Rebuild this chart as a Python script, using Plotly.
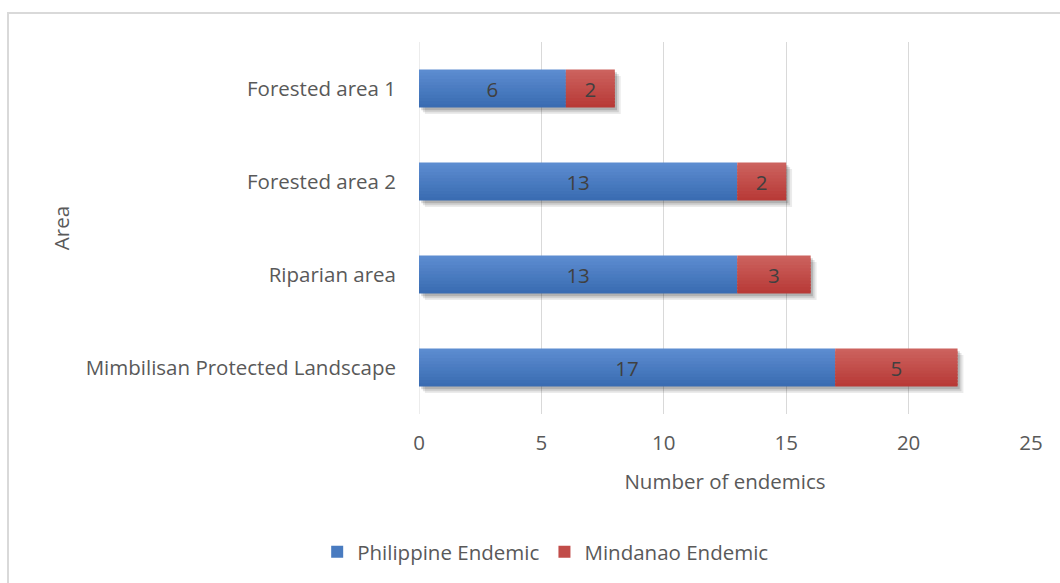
import plotly.graph_objects as go

# Endemic species counts per survey area
areas = ["Forested area 1", "Forested area 2", "Riparian area", "Mimbilisan Protected Landscape"]
philippine_endemic = [6, 13, 13, 17]
mindanao_endemic = [2, 2, 3, 5]
x_ticks = [0, 5, 10, 15, 20, 25]

totals = [p + m for p, m in zip(philippine_endemic, mindanao_endemic)]

FONT = "Open Sans"
FS = 20.5
BAR_W = 0.41
N_STRIPS = 12
# vertical gradient, top colour -> bottom colour
BLUE_GRAD = ((92, 140, 208), (58, 108, 178))
RED_GRAD = ((204, 98, 94), (184, 58, 55))


def mix(c0, c1, t):
    return "rgb({},{},{})".format(*[round(a + (b - a) * t) for a, b in zip(c0, c1)])


fig = go.Figure()

# soft drop shadow under each stacked bar
for dx, dy, a in [(0.24, 0.07, 0.08), (0.16, 0.05, 0.11), (0.09, 0.03, 0.15)]:
    fig.add_trace(go.Bar(
        y=areas, x=totals, base=[dx] * len(areas), orientation="h",
        width=BAR_W, offset=-BAR_W / 2 + dy,
        marker=dict(color=f"rgba(0,0,0,{a})", line=dict(width=0)),
        hoverinfo="skip", showlegend=False,
    ))


def gradient_bar(values, base, grad, name, rank):
    strip = BAR_W / N_STRIPS
    for k in range(N_STRIPS):
        t = k / (N_STRIPS - 1)
        w = strip * (1.0 if k == N_STRIPS - 1 else 1.6)
        fig.add_trace(go.Bar(
            y=areas, x=values, base=base, orientation="h",
            width=w, offset=-BAR_W / 2 + k * strip,
            marker=dict(color=mix(grad[0], grad[1], t), line=dict(width=0)),
            name=name, legendgroup=name, legendrank=rank,
            showlegend=(k == N_STRIPS // 2), hoverinfo="skip",
        ))
    # value labels
    fig.add_trace(go.Bar(
        y=areas, x=values, base=base, orientation="h",
        width=BAR_W, offset=-BAR_W / 2,
        marker=dict(color="rgba(0,0,0,0)", line=dict(width=0)),
        text=values, textposition="inside", insidetextanchor="middle",
        textfont=dict(family=FONT, size=FS, color="#404040"),
        name=name, legendgroup=name, showlegend=False,
    ))


gradient_bar(philippine_endemic, [0] * len(areas), BLUE_GRAD, "Philippine Endemic", 1)
gradient_bar(mindanao_endemic, philippine_endemic, RED_GRAD, "Mindanao Endemic", 2)

fig.update_layout(
    width=1060, height=583,
    margin=dict(l=419, r=29, t=42, b=168),
    paper_bgcolor="white", plot_bgcolor="white",
    barmode="overlay",
    font=dict(family=FONT, size=FS, color="#595959"),
    uniformtext=dict(mode="show", minsize=10),
    legend=dict(
        orientation="h", x=0.207, y=-0.367, xanchor="center", yanchor="middle",
        font=dict(family=FONT, size=FS, color="#595959"),
        itemwidth=30,
    ),
    xaxis=dict(
        range=[0, 25], tickvals=x_ticks, showgrid=True, gridcolor="#d9d9d9", gridwidth=1,
        zeroline=False, showline=False, ticks="",
        ticklabelstandoff=14,
        tickfont=dict(family=FONT, size=FS, color="#595959"),
        title=dict(text="Number of endemics", standoff=20,
                   font=dict(family=FONT, size=FS, color="#595959")),
    ),
    yaxis=dict(
        categoryorder="array", categoryarray=areas, autorange="reversed",
        showgrid=False, zeroline=False, showline=False, ticks="",
        ticklabelstandoff=22,
        tickfont=dict(family=FONT, size=FS, color="#595959"),
        title=dict(text="Area", standoff=10,
                   font=dict(family=FONT, size=FS, color="#595959")),
    ),
    shapes=[
        # zero line of the value axis
        dict(type="line", xref="x", yref="paper", x0=0, x1=0, y0=0, y1=1,
             line=dict(color="#d9d9d9", width=1), layer="below"),
        # chart frame
        dict(type="rect", xref="paper", yref="paper", x0=-0.6716, x1=1.2, y0=-0.6, y1=1.0777,
             line=dict(color="#d9d9d9", width=2), fillcolor="rgba(0,0,0,0)", layer="below"),
    ],
)

fig.write_html("out.html")
